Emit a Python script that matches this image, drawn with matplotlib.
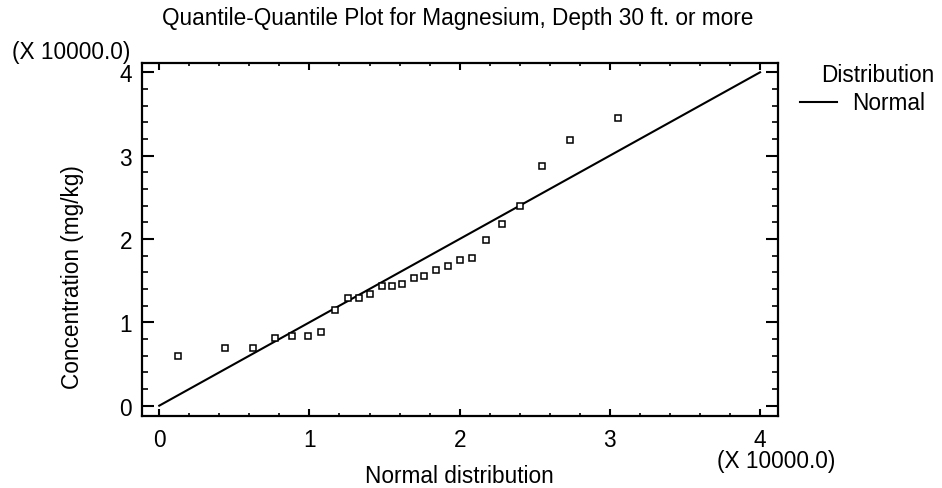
import matplotlib
matplotlib.use('Agg')
import matplotlib.pyplot as plt
from matplotlib.ticker import MultipleLocator

plt.rcParams['font.family'] = ['Liberation Sans', 'DejaVu Sans']

# Quantiles in units of 10000 mg/kg
normal_q = [0.122, 0.44, 0.627, 0.773, 0.882, 0.989, 1.08, 1.173, 1.256, 1.333,
            1.40, 1.482, 1.549, 1.613, 1.693, 1.76, 1.84, 1.92, 2.0, 2.08,
            2.175, 2.28, 2.40, 2.547, 2.733, 3.053]
conc_q = [0.60, 0.695, 0.695, 0.814, 0.838, 0.838, 0.886, 1.15, 1.29, 1.29,
          1.34, 1.44, 1.44, 1.465, 1.537, 1.56, 1.63, 1.68, 1.75, 1.776,
          1.99, 2.18, 2.395, 2.874, 3.186, 3.45]

# reference line
line_x = [0, 4]
line_y = [0, 4]

fs = 16.3

fig = plt.figure(figsize=(9.42, 4.89), dpi=100)
ax = fig.add_axes([0.1504, 0.1479, 0.8255 - 0.1504, 0.8685 - 0.1479])

ax.plot(line_x, line_y, color='black', lw=1.5, label='Normal')
ax.plot(normal_q, conc_q, linestyle='none', marker='s', ms=4.0,
        mfc='white', mec='black', mew=1.1)

ax.set_xlim(-0.117, 4.117)
ax.set_ylim(-0.12, 4.108)

ax.xaxis.set_major_locator(MultipleLocator(1))
ax.xaxis.set_minor_locator(MultipleLocator(0.2))
ax.yaxis.set_major_locator(MultipleLocator(1))
ax.yaxis.set_minor_locator(MultipleLocator(0.2))

for s in ax.spines.values():
    s.set_linewidth(1.6)

ax.tick_params(axis='x', which='major', direction='in', top=True, length=5, width=1.5,
               labelsize=fs, pad=9)
ax.tick_params(axis='x', which='minor', direction='in', top=True, length=2.2, width=1.2)
ax.tick_params(axis='y', which='major', direction='in', right=True, length=8.6, width=1.5,
               labelsize=fs, pad=7)
ax.tick_params(axis='y', which='minor', direction='in', right=True, length=4.3, width=1.2)

fig.text(0.486, 1 - 18 / 489, 'Quantile-Quantile Plot for Magnesium, Depth 30 ft. or more',
         ha='center', va='center', fontsize=fs)
fig.text(12 / 942, 1 - 52 / 489, '(X 10000.0)', ha='left', va='center', fontsize=fs)
fig.text(717 / 942, 1 - 462 / 489, '(X 10000.0)', ha='left', va='center', fontsize=fs)
fig.text(459 / 942, 1 - 477 / 489, 'Normal distribution', ha='center', va='center', fontsize=fs)
fig.text(72 / 942, 1 - 277 / 489, 'Concentration (mg/kg)', ha='center', va='center',
         rotation=90, fontsize=fs)

# legend
fig.text(878 / 942, 1 - 75 / 489, 'Distribution', ha='center', va='center', fontsize=fs)
fig.add_artist(plt.Line2D([800 / 942, 837 / 942], [1 - 103 / 489, 1 - 103 / 489],
                          color='black', lw=1.5))
fig.text(852 / 942, 1 - 104 / 489, 'Normal', ha='left', va='center', fontsize=fs)

fig.savefig('out.png', dpi=100)
